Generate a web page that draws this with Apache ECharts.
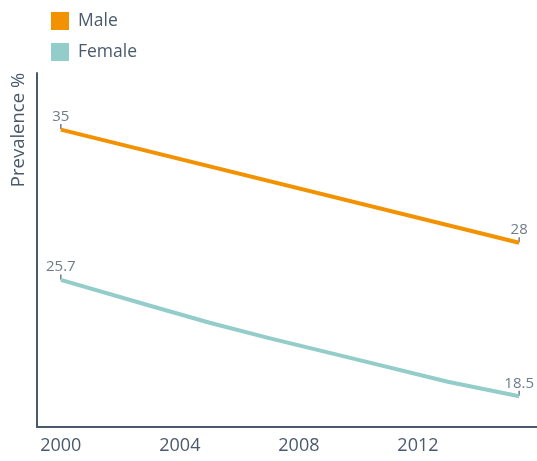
<!DOCTYPE html>
<html>
<head>
<meta charset="utf-8">
<script src="https://cdn.jsdelivr.net/npm/echarts@6/dist/echarts.min.js"></script>
<style>html,body{margin:0;padding:0;background:#fff}#c{width:537px;height:461px}</style>
</head>
<body>
<div id="c"></div>
<script>
// Data
const seriesNames = ['Male', 'Female'];
const maleYears = [2000, 2015.4];
const maleValues = [35, 28];
const femaleYears = [2000, 2003, 2005, 2007, 2010, 2013, 2015.4];
const femaleValues = [25.7, 24.1, 23.05, 22.1, 20.75, 19.4, 18.5];
const xTickLabels = [2000, 2004, 2008, 2012];
const yTitle = 'Prevalence %';

const slate = '#4a5a6c';
const font = '"Open Sans", Lato, sans-serif';
const maleColor = '#f39200';
const femaleColor = '#93cdc9';

const pairs = (xs, ys) => xs.map((x, i) => [x, ys[i]]);
const ends = (xs, ys) => [[xs[0], ys[0]], [xs[xs.length - 1], ys[ys.length - 1]]];

const chart = echarts.init(document.getElementById('c'), null, {renderer: 'canvas'});
const labelCfg = {show: true, position: 'top', distance: 0, color: slate, fontSize: 15, fontFamily: font,
                  formatter: p => String(p.value[1])};
chart.setOption({
  animation: false,
  textStyle: {fontFamily: font},
  legend: {
    data: seriesNames,
    orient: 'vertical',
    left: 46, top: 7,
    itemWidth: 18, itemHeight: 18, itemGap: 13,
    icon: 'rect',
    textStyle: {color: slate, fontSize: 17.5, fontFamily: font, padding: [0, 0, 0, 4]}
  },
  grid: {left: 37, right: 0, top: 73, bottom: 34},
  xAxis: {
    type: 'value', min: 1999.2, max: 2016,
    splitLine: {show: false},
    axisTick: {show: false},
    axisLine: {lineStyle: {color: slate, width: 2}},
    axisLabel: {
      customValues: xTickLabels,
      color: slate, fontSize: 18, fontFamily: font, margin: 10,
      formatter: v => String(v)
    }
  },
  yAxis: {
    type: 'value', min: 16.6, max: 38.5,
    splitLine: {show: false},
    axisTick: {show: false},
    axisLabel: {show: false},
    axisLine: {show: true, lineStyle: {color: slate, width: 2}}
  },
  graphic: [{
    type: 'text', x: 19, y: 130, rotation: Math.PI / 2,
    style: {text: yTitle, fill: slate, font: '18.5px ' + font, align: 'center', verticalAlign: 'middle'}
  }],
  series: [
    {name: 'Male', type: 'line', data: pairs(maleYears, maleValues), symbol: 'none',
     lineStyle: {color: maleColor, width: 4}, itemStyle: {color: maleColor}},
    {name: 'Female', type: 'line', data: pairs(femaleYears, femaleValues), symbol: 'none',
     smooth: false,
     lineStyle: {color: femaleColor, width: 4, join: 'round'}, itemStyle: {color: femaleColor}},
    {name: 'maleLabels', type: 'scatter', data: ends(maleYears, maleValues),
     symbol: 'rect', symbolSize: [1.5, 5], symbolOffset: [0, -3], itemStyle: {color: slate},
     label: labelCfg},
    {name: 'femaleLabels', type: 'scatter', data: ends(femaleYears, femaleValues),
     symbol: 'rect', symbolSize: [1.5, 5], symbolOffset: [0, -3], itemStyle: {color: slate},
     label: labelCfg}
  ]
});
</script>
</body>
</html>
